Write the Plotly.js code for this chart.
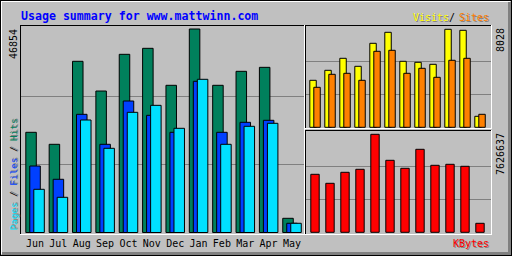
<!DOCTYPE html>
<html><head><meta charset="utf-8">
<script src="https://cdn.plot.ly/plotly-3.0.1.min.js"></script>
<style>html,body{margin:0;padding:0;background:#c0c0c0;overflow:hidden}</style>
</head><body><div id="chart" style="width:512px;height:256px"></div>
<script>
const months = ["Jun","Jul","Aug","Sep","Oct","Nov","Dec","Jan","Feb","Mar","Apr","May"];
const hits   = [23070,20305,39415,32575,41025,42405,33890,46854,33890,37110,38030,3270];
const files  = [15310,12250,27210,20305,30275,26980,23070,34810,23070,25370,25830,2120];
const pages  = [9945,8105,25900,19385,27670,29280,23990,35270,20305,24450,25140,2120];
const visits = [3850,4669,5652,4997,6881,7782,5407,5325,5161,8028,7946,901];
const sites  = [3277,4342,4424,3850,6226,6308,4424,4833,4096,5489,5652,1065];
const kbytes = [4513806,3813318,4669370,4902838,7626637,5603243,4980661,6459274,5214126,5291950,5136301,700405];
const siteName = "www.mattwinn.com";

const W = 512, H = 256;
const X = p => p / W, Y = p => 1 - p / H;
const GREY = "#c0c0c0", DK = "#808080";
const MONO = "DejaVu Sans Mono";

const maxMain = Math.max(...hits, ...files, ...pages);
const maxVS = Math.max(...visits, ...sites);
const maxKB = Math.max(...kbytes);

function bar(y, xa, ya, color, offset, width) {
  return {type: "bar", x: months, y: y, xaxis: xa, yaxis: ya, offset: offset, width: width,
    marker: {color: color, line: {color: "#000", width: 1}}, hoverinfo: "skip"};
}
const traces = [
  bar(hits,  "x",  "y",  "#00805c", -0.394, 0.45),
  bar(files, "x",  "y",  "#0040ff", -0.223, 0.45),
  bar(pages, "x",  "y",  "#00e0ff", -0.051, 0.45),
  bar(visits,"x2", "y2", "#ffff00", -0.347, 0.43),
  bar(sites, "x2", "y2", "#ff8000", -0.08,  0.43),
  bar(kbytes,"x3", "y3", "#ff0000", -0.28,  0.56)
];

const sMain = maxMain / 203.5, sVS = maxVS / 98, sKB = maxKB / 98;

function yax(domTop, domBot, base, max, s) {
  return {domain: [Y(domBot), Y(domTop)], range: [-(domBot - base) * s, (base - domTop) * s],
    tickvals: [max / 3, 2 * max / 3], showticklabels: false, ticks: "",
    showgrid: true, gridcolor: DK, gridwidth: 1, zeroline: false, showline: false,
    fixedrange: true, automargin: false};
}
function xax(domL, domR, c0, unit, labels) {
  return {domain: [X(domL), X(domR)], type: "category",
    range: [-(c0 - domL) / unit, -(c0 - domL) / unit + (domR - domL) / unit],
    showgrid: false, zeroline: false, showline: false, ticks: "",
    showticklabels: labels, tickfont: {family: MONO, size: 10, color: "#000"},
    ticklabelstandoff: 2, fixedrange: true, automargin: false};
}

function ln(x0, y0, x1, y1, color) {
  return {type: "line", xref: "paper", yref: "paper", x0: X(x0), y0: Y(y0), x1: X(x1), y1: Y(y1),
    line: {color: color, width: 1}, layer: "above"};
}
const shapes = [
  ln(0, 0.5, 512, 0.5, "#000"), ln(0.5, 0, 0.5, 256, "#000"),
  ln(0, 255.5, 512, 255.5, "#000"), ln(511.5, 0, 511.5, 256, "#000"),
  ln(1, 1.5, 510, 1.5, "#fff"), ln(1.5, 1, 1.5, 254, "#fff"),
  ln(2, 252.5, 511, 252.5, DK), ln(2, 253.5, 511, 253.5, DK), ln(2, 254.5, 511, 254.5, DK),
  ln(508.5, 2, 508.5, 255, DK), ln(509.5, 2, 509.5, 255, DK), ln(510.5, 2, 510.5, 255, DK),
  ln(20, 25.5, 305, 25.5, "#000"), ln(20.5, 25, 20.5, 235, "#000"),
  ln(20, 234.5, 305, 234.5, "#fff"), ln(304.5, 25, 304.5, 235, "#fff"),
  ln(305, 25.5, 492, 25.5, "#000"), ln(305.5, 25, 305.5, 129, "#000"),
  ln(305, 128.5, 492, 128.5, "#fff"), ln(491.5, 25, 491.5, 129, "#fff"),
  ln(305, 130.5, 492, 130.5, "#000"), ln(305.5, 130, 305.5, 235, "#000"),
  ln(305, 234.5, 492, 234.5, "#fff"), ln(491.5, 130, 491.5, 235, "#fff")
];

function ann(text, x, y, xa, ya, color, size, extra) {
  return Object.assign({text: text, x: X(x), y: Y(y), xref: "paper", yref: "paper",
    xanchor: xa, yanchor: ya, showarrow: false, borderpad: 0,
    font: {family: MONO, size: size, color: color}}, extra || {});
}
function shadowed(text, x, y, xa, ya, color, size, extra) {
  return [ann(text, x + 1, y + 1, xa, ya, DK, size, extra), ann(text, x, y, xa, ya, color, size, extra)];
}
const rot = {textangle: -90};
const legendPlain = "Pages / Files / Hits";
const legendColored = '<span style="color:#00e0ff">Pages</span> / <span style="color:#0040ff">Files</span> / <span style="color:#00805c">Hits</span>';
const annotations = [
  ann("Usage summary for " + siteName, 20, 15.5, "left", "middle", "#0000ff", 11.6,
      {font: {family: MONO, size: 11.6, color: "#0000ff", weight: "bold"}}),
  ...shadowed("Visits", 412, 17.5, "left", "middle", "#ffff00", 10),
  ann("/", 451.5, 17.5, "center", "middle", "#000", 10),
  ...shadowed("Sites", 490, 17.5, "right", "middle", "#ff8000", 10),
  ...shadowed("KBytes", 490, 243.5, "right", "middle", "#ff0000", 10),
  ann(String(maxMain), 13, 28, "center", "top", "#000", 10, rot),
  ann(String(maxVS), 500, 27, "center", "top", "#000", 10, rot),
  ann(String(maxKB), 500, 132, "center", "top", "#000", 10, rot),
  ann(legendPlain, 13.5, 231, "center", "bottom", DK, 9.3, rot),
  ann(legendColored, 12.5, 232, "center", "bottom", "#000", 9.3, rot)
];

const layout = {
  width: W, height: H, margin: {l: 0, r: 0, t: 0, b: 0, pad: 0},
  paper_bgcolor: GREY, plot_bgcolor: GREY, showlegend: false, barmode: "overlay",
  xaxis: Object.assign(xax(20, 305, 35, 23.36, true), {anchor: "y"}),
  yaxis: Object.assign(yax(25, 234, 232.5, maxMain, sMain), {anchor: "x"}),
  xaxis2: Object.assign(xax(305, 491, 315, 15, false), {anchor: "y2"}),
  yaxis2: Object.assign(yax(25, 128, 127.3, maxVS, sVS), {anchor: "x2"}),
  xaxis3: Object.assign(xax(305, 491, 315, 15, false), {anchor: "y3"}),
  yaxis3: Object.assign(yax(130, 234, 232.3, maxKB, sKB), {anchor: "x3"}),
  shapes: shapes, annotations: annotations
};
Plotly.newPlot("chart", traces, layout, {staticPlot: true, displayModeBar: false});
</script></body></html>
